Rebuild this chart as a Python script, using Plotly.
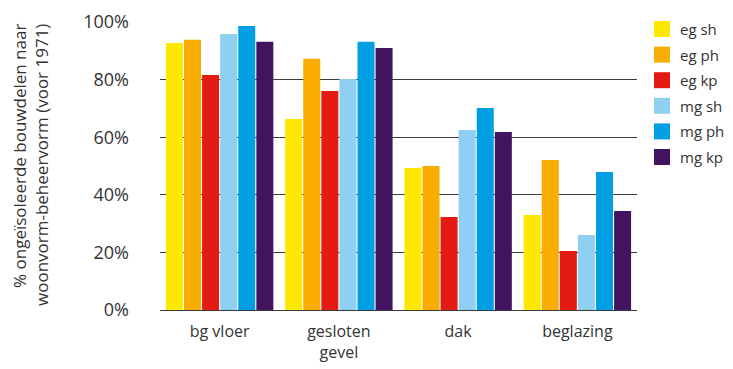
import plotly.graph_objects as go

categories = ["bg vloer", "gesloten<br>gevel", "dak", "beglazing"]
series_names = ["eg sh", "eg ph", "eg kp", "mg sh", "mg ph", "mg kp"]
eg_sh = [92.7, 66.3, 49.3, 33.0]
eg_ph = [93.8, 87.2, 50.0, 52.1]
eg_kp = [81.6, 76.0, 32.3, 20.5]
mg_sh = [95.8, 80.2, 62.5, 26.0]
mg_ph = [98.6, 93.1, 70.1, 47.9]
mg_kp = [93.1, 91.0, 61.8, 34.4]
series_values = [eg_sh, eg_ph, eg_kp, mg_sh, mg_ph, mg_kp]
colors = ["#FFE800", "#F9AD00", "#E31B12", "#8FCFF2", "#009FE3", "#42145F"]
y_ticks = [0, 20, 40, 60, 80, 100]
y_ticklabels = ["0%", "20%", "40%", "60%", "80%", "100%"]
y_title = "% ongeïsoleerde bouwdelen naar<br>woonvorm-beheervorm (voor 1971)"

FONT = "'Open Sans', sans-serif"
TXT = "#333333"

# page has an 8px body margin; figure pixels = page pixels - 8
W, H = 725, 361
L, R, T, B = 152, 96, 14, 59
PW, PH = W - L - R, H - T - B

fig = go.Figure()
for name, vals, col in zip(series_names, series_values, colors):
    fig.add_trace(go.Bar(x=categories, y=vals, name=name, marker_color=col,
                         marker_line_width=0, showlegend=False))

# manual legend (figure pixels converted to paper)
for i, (name, col) in enumerate(zip(series_names, colors)):
    y0 = 13 + i * 25.6
    fig.add_shape(type="rect", xref="paper", yref="paper",
                  x0=(646 - L) / PW, x1=(662 - L) / PW,
                  y0=(T + PH - (y0 + 16)) / PH, y1=(T + PH - y0) / PH,
                  fillcolor=col, line_width=0)
    fig.add_annotation(text=name, xref="paper", yref="paper",
                       x=(670 - L) / PW, y=(T + PH - (y0 + 8)) / PH,
                       xanchor="left", yanchor="middle", showarrow=False,
                       font=dict(family=FONT, size=15, color=TXT))

# y-axis title, lines aligned at the top of the plot
fig.add_annotation(text=y_title, xref="paper", yref="paper",
                   x=(22 - L) / PW, y=1.0, xanchor="center", yanchor="top",
                   textangle=-90, align="right", showarrow=False,
                   font=dict(family=FONT, size=17, color=TXT))

fig.update_layout(
    width=W, height=H,
    margin=dict(l=L, r=R, t=T, b=B, autoexpand=False),
    paper_bgcolor="white", plot_bgcolor="white",
    barmode="group", bargap=0.09, bargroupgap=0.06,
    font=dict(family=FONT, size=16, color=TXT),
    xaxis=dict(showgrid=False, ticks="", showline=False, ticklabelstandoff=10,
               automargin=False, tickfont=dict(size=16, color=TXT)),
    yaxis=dict(range=[0, 100], tickvals=y_ticks, ticktext=y_ticklabels,
               showgrid=True, gridcolor="#3c3c3c", gridwidth=1,
               zeroline=True, zerolinecolor="#3c3c3c", zerolinewidth=1,
               ticks="", ticklen=0, ticklabelstandoff=30, automargin=False,
               tickfont=dict(size=18, color=TXT)),
)

fig.write_html("out.html")
